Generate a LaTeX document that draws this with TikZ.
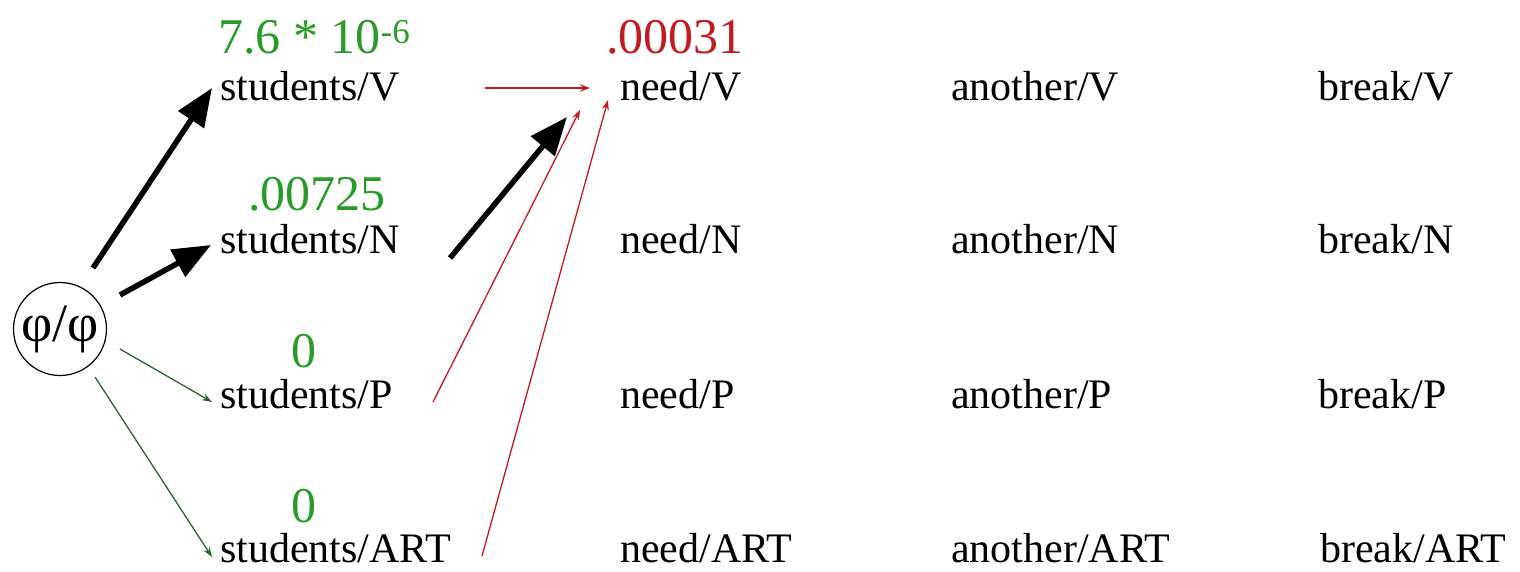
\documentclass[tikz,border=0pt]{standalone}
\usepackage{fontspec}
\setmainfont{Liberation Serif}
\usetikzlibrary{arrows.meta}
\definecolor{probgreen}{RGB}{40,155,40}
\definecolor{edgegreen}{RGB}{45,100,45}
\definecolor{probred}{RGB}{195,25,35}

\begin{document}
\begin{tikzpicture}[x=1pt,y=-1pt,
  word/.style={anchor=base west, inner sep=0pt, font=\fontsize{42}{48}\selectfont},
  prob/.style={anchor=base west, inner sep=0pt, font=\fontsize{50}{56}\selectfont},
  best/.style={line width=5.5pt, -{Triangle[length=38pt,width=30pt]}},
  thinedge/.style={line width=1.3pt, -{Stealth[length=10pt,width=7pt]}},
]
\useasboundingbox (0,0) rectangle (1520,571);

% start state
\node[circle, draw, line width=1.2pt, minimum size=93pt, inner sep=0pt,
      font=\fontsize{54}{60}\selectfont] (start) at (60,329) {φ/φ};

% lattice of word/tag states
\node[word] (sV)   at (220,100) {students/V};
\node[word] (sN)   at (220,253) {students/N};
\node[word] (sP)   at (220,408) {students/P};
\node[word] (sART) at (220,562) {students/ART};

\node[word] (nV)   at (620,100) {need/V};
\node[word] (nN)   at (620,253) {need/N};
\node[word] (nP)   at (620,408) {need/P};
\node[word] (nART) at (620,562) {need/ART};

\node[word] (aV)   at (951,100) {another/V};
\node[word] (aN)   at (951,253) {another/N};
\node[word] (aP)   at (951,408) {another/P};
\node[word] (aART) at (951,562) {another/ART};

\node[word] (bV)   at (1318,100) {break/V};
\node[word] (bN)   at (1318,253) {break/N};
\node[word] (bP)   at (1318,408) {break/P};
\node[word] (bART) at (1320,562) {break/ART};

% probabilities
\node[prob, text=probgreen] (pV)   at (218,53)  {7.6 * 10\textsuperscript{-6}};
\node[prob, text=probgreen] (pN)   at (248,210) {.00725};
\node[prob, text=probgreen] (pP)   at (291,367) {0};
\node[prob, text=probgreen] (pART) at (291,522) {0};
\node[prob, text=probred]   (pNV)  at (606,53)  {.00031};

% edge end points
\coordinate (s1) at (93,268);
\coordinate (s2) at (120,295);
\coordinate (s3) at (120,349);
\coordinate (s4) at (95,377);
\coordinate (tV)   at (212,88);
\coordinate (tN)   at (211,245);
\coordinate (tP)   at (212,402);
\coordinate (tART) at (212,557);
\coordinate (fV)   at (485,88);
\coordinate (fN)   at (450,258);
\coordinate (fP)   at (433,402);
\coordinate (fART) at (482,556);
\coordinate (hV)   at (590,88);
\coordinate (hN)   at (567,117);
\coordinate (hP)   at (580,110);
\coordinate (hART) at (608,100);

% edges from the start state
\draw[best] (s1) -- (tV);
\draw[best] (s2) -- (tN);
\draw[thinedge, edgegreen] (s3) -- (tP);
\draw[thinedge, edgegreen] (s4) -- (tART);

% edges into need/V
\draw[thinedge, probred] (fV) -- (hV);
\draw[best] (fN) -- (hN);
\draw[thinedge, probred] (fP) -- (hP);
\draw[thinedge, probred] (fART) -- (hART);
\end{tikzpicture}
\end{document}
